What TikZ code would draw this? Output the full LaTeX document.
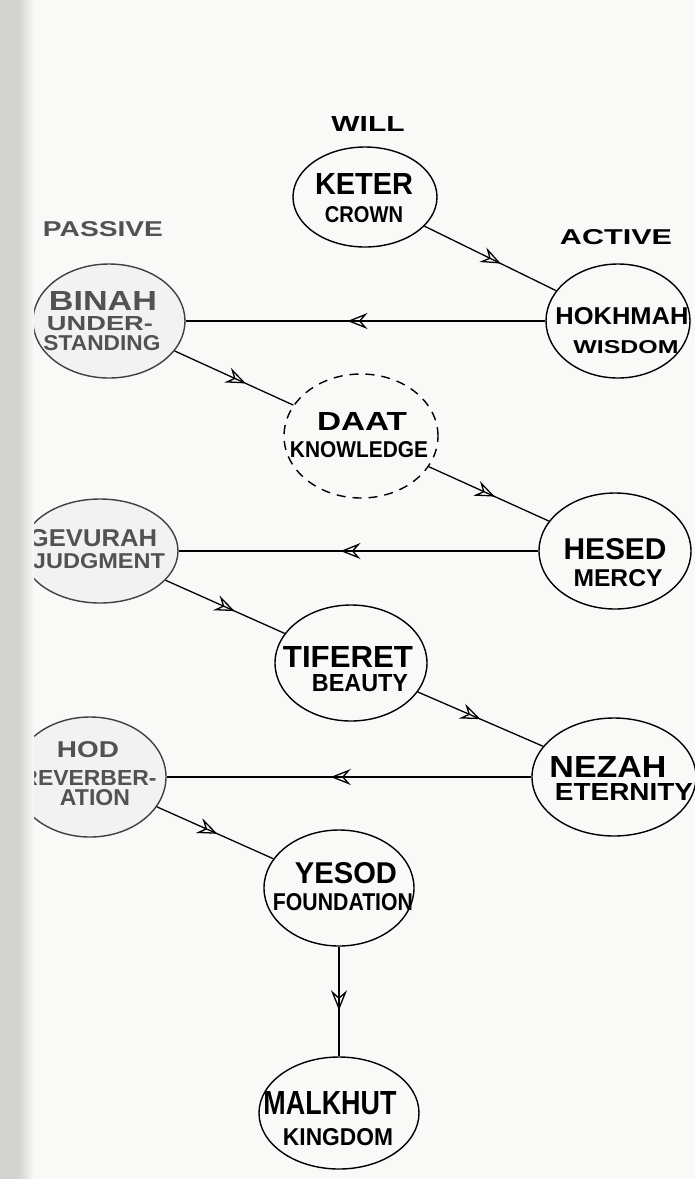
\documentclass[tikz,border=0pt]{standalone}
\usepackage{fontspec}
\setmainfont{Liberation Sans}
\usepackage{graphicx}
\usetikzlibrary{shapes.geometric,arrows.meta,decorations.markings}
\newcommand{\lbl}[3]{\resizebox{#1pt}{#2pt}{\bfseries #3}}
\definecolor{pagecol}{HTML}{F9F9F8}
\definecolor{stripcol}{HTML}{D2D2D0}
\begin{document}
\begin{tikzpicture}[x=1pt,y=-1pt,
  sef/.style n args={2}{ellipse, draw, line width=1.4pt, minimum width=#1pt, minimum height=#2pt, inner sep=0pt},
  faded/.style={draw=black!75, fill=black!5},
  lab/.style={inner sep=0pt, anchor=center, text=black},
  flab/.style={inner sep=0pt, anchor=center, text=black!68},
  conn/.style={line width=1.3pt},
  midarrow/.style={postaction={decorate}, decoration={markings, mark=at position #1 with {\arrow{Stealth[open,length=20pt,width=16pt,inset=7pt,line width=1.3pt]}}}}
]
\useasboundingbox (0,0) rectangle (695,1179);
\fill[pagecol] (0,0) rectangle (695,1179);

% sefirot
\node[sef={144}{100}] (keter) at (365,197) {};
\node[sef={144}{114}] (hokhmah) at (618,321) {};
\node[sef={152}{114}, faded] (binah) at (109,321) {};
\node[sef={154}{124}, dashed, dash pattern=on 9pt off 7pt] (daat) at (361,436) {};
\node[sef={152}{116}] (hesed) at (615,551) {};
\node[sef={156}{104}, faded] (gevurah) at (100,551) {};
\node[sef={152}{116}] (tiferet) at (351,663) {};
\node[sef={164}{118}] (nezah) at (614,777) {};
\node[sef={152}{120}, faded] (hod) at (90,777) {};
\node[sef={150}{116}] (yesod) at (339,888) {};
\node[sef={160}{112}] (malkhut) at (339,1113) {};

% labels
\node[lab] (will) at (368,124) {\lbl{73}{15}{WILL}};
\node[lab] (active) at (616,237) {\lbl{112}{15}{ACTIVE}};
\node[flab] (passive) at (103,229) {\lbl{120}{15}{PASSIVE}};

\node[lab] (keterA) at (364,184) {\lbl{98}{21}{KETER}};
\node[lab] (keterB) at (364,215) {\lbl{78}{16}{CROWN}};
\node[lab] (hokhmahA) at (622,316) {\lbl{133}{17}{HOKHMAH}};
\node[lab] (hokhmahB) at (626,347) {\lbl{105}{13}{WISDOM}};
\node[flab] (binahA) at (103,301) {\lbl{108}{19}{BINAH}};
\node[flab] (binahB) at (100,324) {\lbl{106}{14}{UNDER-}};
\node[flab] (binahC) at (102,343) {\lbl{117}{15}{STANDING}};
\node[lab] (daatA) at (362,421) {\lbl{90}{18}{DAAT}};
\node[lab] (daatB) at (359,450) {\lbl{138}{16}{KNOWLEDGE}};
\node[lab] (hesedA) at (615,549) {\lbl{103}{21}{HESED}};
\node[lab] (hesedB) at (618,578) {\lbl{89}{17}{MERCY}};
\node[flab] (gevurahA) at (93,538) {\lbl{128}{17}{GEVURAH}};
\node[flab] (gevurahB) at (99,561) {\lbl{132}{15}{JUDGMENT}};
\node[lab] (tiferetA) at (348,657) {\lbl{130}{21}{TIFERET}};
\node[lab] (tiferetB) at (360,683) {\lbl{96}{17}{BEAUTY}};
\node[lab] (nezahA) at (608,767) {\lbl{117}{21}{NEZAH}};
\node[lab] (nezahB) at (624,792) {\lbl{138}{17}{ETERNITY}};
\node[flab] (hodA) at (88,750) {\lbl{62}{16}{HOD}};
\node[flab] (hodB) at (89,778) {\lbl{135}{15}{REVERBER-}};
\node[flab] (hodC) at (95,798) {\lbl{70}{16}{ATION}};
\node[lab] (yesodA) at (346,873) {\lbl{102}{21}{YESOD}};
\node[lab] (yesodB) at (343,902) {\lbl{140}{17}{FOUNDATION}};
\node[lab] (malkhutA) at (330,1103) {\lbl{133}{23}{MALKHUT}};
\node[lab] (malkhutB) at (338,1137) {\lbl{110}{17}{KINGDOM}};

% connectors
\draw[conn, midarrow=0.58] (keter) -- (hokhmah);
\draw[conn, midarrow=0.55] (hokhmah) -- (binah);
\draw[conn, midarrow=0.6] (binah) -- (daat);
\draw[conn, midarrow=0.55] (daat) -- (hesed);
\draw[conn, midarrow=0.55] (hesed) -- (gevurah);
\draw[conn, midarrow=0.58] (gevurah) -- (tiferet);
\draw[conn, midarrow=0.5] (tiferet) -- (nezah);
\draw[conn, midarrow=0.55] (nezah) -- (hod);
\draw[conn, midarrow=0.52] (hod) -- (yesod);
\draw[conn, midarrow=0.58] (yesod) -- (malkhut);

% page edge
\fill[stripcol] (0,0) rectangle (18,1179);
\shade[left color=stripcol, right color=pagecol] (18,0) rectangle (34,1179);
\end{tikzpicture}
\end{document}
